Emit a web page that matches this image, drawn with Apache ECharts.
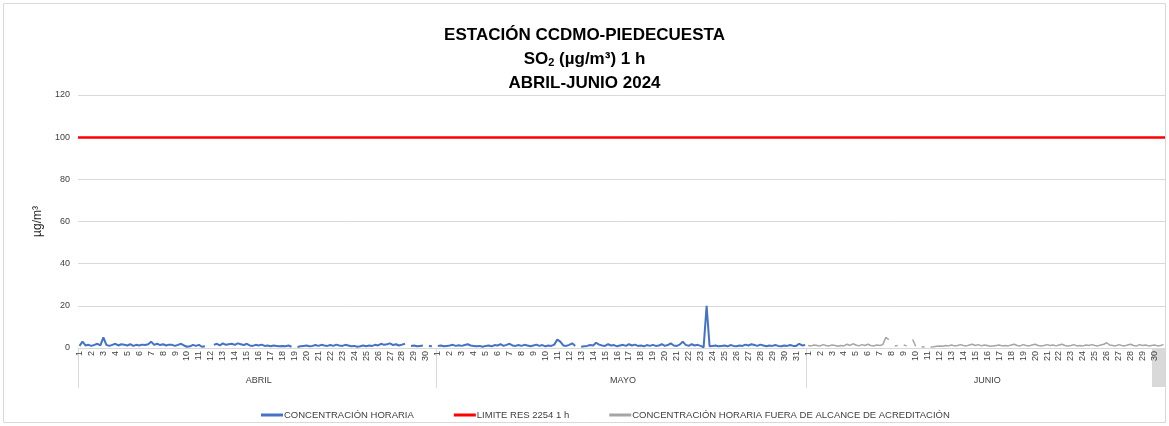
<!DOCTYPE html>
<html>
<head>
<meta charset="utf-8">
<script src="https://cdn.jsdelivr.net/npm/echarts@6/dist/echarts.min.js"></script>
<style>
  html, body { margin: 0; padding: 0; background: #fff; }
  #so2 { width: 1169px; height: 426px; }
</style>
</head>
<body>
<div id="so2"></div>
<script>
var chartDom = document.getElementById('so2');
var myChart = echarts.init(chartDom);
var option;

// meses del periodo y dias de cada uno
const meses = ['ABRIL', 'MAYO', 'JUNIO'];
const diasMes = [30, 31, 30];
// 4 lecturas por dia (cada 6 h aprox.)
const lecturasDia = 4;

// concentracion horaria (µg/m³), una fila por dia
const abril = [
  [1.0, 3.0, 1.2, 1.5], [1.0, 1.5, 2.0, 1.2], [5.0, 1.5, 1.0, 1.5], [2.0, 1.2, 1.8, 1.5],
  [1.2, 1.8, 1.0, 1.5], [1.2, 1.6, 1.4, 1.8], [3.0, 1.5, 2.0, 1.4], [1.8, 1.2, 1.6, 1.5],
  [1.0, 1.5, 2.0, 1.2], [0.6, 0.8, 1.5, 1.0], [1.5, 0.6, 0.8, null], [null, 1.5, 2.0, 1.2],
  [2.2, 1.5, 1.8, 2.0], [1.5, 2.2, 1.8, 1.4], [2.0, 1.2, 1.0, 1.5], [1.2, 1.6, 1.0, 1.2],
  [0.8, 1.2, 1.0, 0.8], [1.0, 0.8, 1.2, 0.6], [null, 0.5, 0.8, 1.0], [1.2, 0.8, 1.0, 1.4],
  [1.0, 1.5, 1.2, 1.0], [1.4, 1.0, 1.6, 1.2], [1.0, 1.5, 1.2, 0.8], [1.0, 0.6, 0.8, 1.2],
  [0.8, 1.2, 1.0, 1.5], [1.2, 2.0, 1.5, 1.8], [2.2, 1.4, 1.8, 1.2], [1.6, 2.0, null, 1.0],
  [1.2, 0.8, 1.0, 1.2], [null, 1.0, 0.8, null]
];
const mayo = [
  [1.0, 1.2, 0.8, 1.0], [1.2, 1.5, 1.0, 1.3], [1.0, 1.4, 1.8, 1.2], [1.0, 0.8, 1.0, 0.6],
  [1.0, 1.2, 0.8, 1.4], [1.2, 1.8, 1.0, 1.5], [2.0, 1.2, 1.0, 1.4], [1.0, 1.5, 1.2, 0.8],
  [1.2, 1.6, 1.0, 1.4], [0.8, 1.2, 1.0, 1.6], [4.0, 3.0, 1.2, 1.0], [1.5, 2.2, 1.0, null],
  [0.6, 0.8, 1.0, 1.4], [1.2, 2.5, 1.6, 1.2], [1.0, 1.8, 1.2, 1.4], [0.8, 1.2, 1.5, 1.0],
  [1.8, 1.2, 1.6, 1.0], [1.2, 0.8, 1.4, 1.0], [1.5, 1.0, 1.2, 1.8], [1.0, 1.4, 2.2, 1.2],
  [1.0, 1.6, 3.0, 1.5], [1.0, 1.8, 1.2, 1.5], [1.0, 0.3, 20.0, 0.8], [1.0, 1.2, 0.8, 1.0],
  [1.2, 0.8, 1.4, 1.0], [0.8, 1.2, 1.0, 1.6], [1.2, 1.8, 1.4, 1.0], [1.6, 1.2, 0.8, 1.2],
  [1.0, 1.4, 1.0, 0.8], [1.2, 1.0, 1.4, 1.0], [1.0, 2.0, 1.2, 1.4]
];
// junio: fuera de alcance de acreditacion
const junio = [
  [1.2, 1.0, 1.4, 1.2], [1.0, 1.6, 1.2, 1.0], [1.4, 1.2, 0.8, 1.2], [1.0, 1.8, 1.2, 2.0],
  [1.4, 1.0, 1.6, 1.2], [1.8, 1.2, 1.0, 1.4], [1.2, 1.6, 5.0, 4.0], [null, 1.0, 1.2, null],
  [1.4, 1.0, null, 4.0], [0.8, null, 0.6, 0.5], [null, 0.5, 0.6, 0.8], [1.0, 0.8, 1.2, 1.0],
  [1.4, 1.0, 1.2, 1.6], [1.2, 1.0, 1.4, 1.8], [1.2, 1.6, 1.0, 1.4], [1.2, 0.8, 1.0, 1.2],
  [1.4, 1.0, 1.2, 1.0], [1.4, 1.8, 1.2, 1.0], [1.6, 1.2, 1.0, 1.4], [1.8, 1.2, 1.0, 1.2],
  [1.6, 1.2, 1.4, 1.0], [1.4, 1.8, 1.2, 1.0], [1.2, 1.6, 1.0, 1.2], [1.0, 1.4, 1.2, 1.6],
  [1.2, 1.0, 1.4, 1.8], [2.5, 1.4, 1.2, 1.0], [1.6, 1.2, 1.0, 1.4], [1.8, 1.2, 1.0, 1.6],
  [1.2, 1.4, 1.0, 1.2], [1.4, 1.0, 1.2, 1.6]
];
const limite = 100;

// categorias: mes|dia|lectura
var categorias = [];
var inicioMes = [];
var centroMes = [];
meses.forEach(function (m, i) {
  inicioMes.push(categorias.length);
  centroMes.push(categorias.length + diasMes[i] * lecturasDia / 2);
  for (var d = 1; d <= diasMes[i]; d++) {
    for (var k = 0; k < lecturasDia; k++) {
      categorias.push(m + '|' + d + '|' + k);
    }
  }
});

var vacioJunio = junio.flat().map(function () { return null; });
var vacioAbrMay = abril.flat().concat(mayo.flat()).map(function () { return null; });
var horaria = abril.flat().concat(mayo.flat()).concat(vacioJunio);
var fuera = vacioAbrMay.concat(junio.flat());

var fuente = "'Liberation Sans', Arial, sans-serif";

option = {
  animation: false,
  textStyle: { fontFamily: fuente },
  title: {
    left: 'center',
    top: 18,
    text: '{a|ESTACIÓN CCDMO-PIEDECUESTA}\n{a|SO}{s|2}{a| (µg/m³) 1 h}\n{a|ABRIL-JUNIO 2024}',
    textStyle: {
      rich: {
        a: { fontSize: 17, fontWeight: 'bold', color: '#000', lineHeight: 24, fontFamily: fuente },
        s: { fontSize: 11, fontWeight: 'bold', color: '#000', lineHeight: 24, padding: [8, 0, 0, 0], fontFamily: fuente }
      }
    }
  },
  legend: {
    left: 256,
    top: 405,
    icon: 'rect',
    itemWidth: 22,
    itemHeight: 3,
    itemGap: 40,
    textStyle: { fontSize: 9.5, color: '#404040', padding: [0, 0, 0, -4] },
    data: ['CONCENTRACIÓN HORARIA', 'LIMITE RES 2254 1 h', 'CONCENTRACIÓN HORARIA FUERA DE ALCANCE DE ACREDITACIÓN']
  },
  grid: { left: 78, right: 4, top: 95, bottom: 78 },
  xAxis: [
    {
      type: 'category',
      data: categorias,
      boundaryGap: true,
      axisLine: { lineStyle: { color: '#d9d9d9' } },
      axisTick: { show: false },
      axisLabel: {
        interval: function (i) { return i % lecturasDia === 0; },
        formatter: function (v) { return v.split('|')[1]; },
        rotate: 90,
        fontSize: 9,
        color: '#404040',
        margin: 3
      }
    },
    {
      type: 'category',
      data: categorias,
      position: 'bottom',
      offset: 0,
      boundaryGap: true,
      axisLine: { show: false },
      axisTick: {
        show: true,
        length: 40,
        interval: function (i) { return inicioMes.indexOf(i) >= 0; },
        lineStyle: { color: '#d9d9d9' }
      },
      axisLabel: {
        interval: function (i) { return centroMes.indexOf(i) >= 0; },
        formatter: function (v) { return v.split('|')[0]; },
        fontSize: 9,
        color: '#404040',
        margin: 28
      }
    }
  ],
  yAxis: {
    type: 'value',
    min: 0,
    max: 120,
    interval: 20,
    name: 'µg/m³',
    nameLocation: 'middle',
    nameGap: 28,
    nameTextStyle: { fontSize: 12, color: '#262626' },
    axisLine: { show: false },
    axisTick: { show: false },
    axisLabel: { fontSize: 9, color: '#404040', margin: 8 },
    splitLine: { lineStyle: { color: '#d9d9d9' } }
  },
  series: [
    {
      name: 'CONCENTRACIÓN HORARIA',
      type: 'line',
      data: horaria,
      showSymbol: false,
      symbol: 'none',
      itemStyle: { color: '#4472C4' },
      lineStyle: { color: '#4472C4', width: 2 }
    },
    {
      name: 'LIMITE RES 2254 1 h',
      type: 'line',
      data: [],
      symbol: 'none',
      itemStyle: { color: '#ff0000' },
      lineStyle: { color: '#ff0000', width: 2.5 },
      markLine: {
        silent: true,
        symbol: 'none',
        label: { show: false },
        lineStyle: { color: '#ff0000', width: 2.5, type: 'solid' },
        data: [{ yAxis: limite }]
      }
    },
    {
      name: 'CONCENTRACIÓN HORARIA FUERA DE ALCANCE DE ACREDITACIÓN',
      type: 'line',
      data: fuera,
      showSymbol: false,
      symbol: 'none',
      itemStyle: { color: '#a5a5a5' },
      lineStyle: { color: '#a5a5a5', width: 1.5 }
    }
  ],
  graphic: [
    {
      type: 'rect',
      shape: { x: 3.5, y: 3.5, width: 1162, height: 419 },
      style: { fill: 'none', stroke: '#d9d9d9', lineWidth: 1 },
      silent: true
    },
    {
      type: 'rect',
      shape: { x: 1152, y: 349, width: 13, height: 38 },
      style: { fill: '#d9d9d9' },
      silent: true
    }
  ]
};

option && myChart.setOption(option);
</script>
</body>
</html>
